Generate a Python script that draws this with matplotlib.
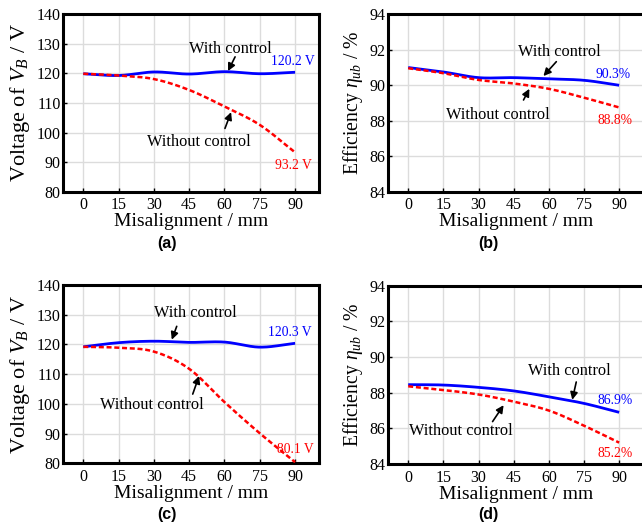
import numpy as np
import matplotlib
matplotlib.use("Agg")
import matplotlib.pyplot as plt

plt.rcParams['font.family'] = ['Liberation Serif', 'DejaVu Serif']
plt.rcParams['mathtext.fontset'] = 'custom'
plt.rcParams['mathtext.rm'] = 'Liberation Serif'
plt.rcParams['mathtext.it'] = 'Liberation Serif:italic'
plt.rcParams['mathtext.bf'] = 'Liberation Serif:bold'

# ---------------- data ----------------
misalignment = [0, 15, 30, 45, 60, 75, 90]
x_ticks = [0, 15, 30, 45, 60, 75, 90]

a_with = [119.9, 119.3, 120.5, 119.8, 120.6, 119.9, 120.4]
a_without = [119.9, 119.3, 118.1, 114.4, 108.8, 102.6, 93.3]

b_with = [91.0, 90.75, 90.43, 90.43, 90.36, 90.28, 90.0]
b_without = [90.96, 90.68, 90.3, 90.1, 89.8, 89.3, 88.75]

c_with = [119.2, 120.6, 121.1, 120.7, 120.8, 119.1, 120.4]
c_without = [119.2, 118.9, 117.6, 111.8, 100.6, 90.1, 80.4]

d_with = [88.45, 88.43, 88.3, 88.1, 87.77, 87.4, 86.9]
d_without = [88.36, 88.15, 87.9, 87.5, 87.0, 86.15, 85.2]

volt_ticks = [80, 90, 100, 110, 120, 130, 140]
eff_ticks = [84, 86, 88, 90, 92, 94]

end_labels = {
    'a': ('120.2 V', '93.2 V'),
    'b': ('90.3%', '88.8%'),
    'c': ('120.3 V', '80.1 V'),
    'd': ('86.9%', '85.2%'),
}


def smooth(x, y, n=30):
    """Catmull-Rom rendering of the curve through the read points."""
    x = np.asarray(x, float)
    y = np.asarray(y, float)
    P = np.column_stack([x, y])
    P = np.vstack([2 * P[0] - P[1], P, 2 * P[-1] - P[-2]])
    out = []
    t = np.linspace(0, 1, n, endpoint=False)
    for i in range(1, len(P) - 2):
        p0, p1, p2, p3 = P[i - 1], P[i], P[i + 1], P[i + 2]
        tt = t[:, None]
        seg = 0.5 * ((2 * p1) + (-p0 + p2) * tt + (2 * p0 - 5 * p1 + 4 * p2 - p3) * tt ** 2
                     + (-p0 + 3 * p1 - 3 * p2 + p3) * tt ** 3)
        out.append(seg)
    out.append(P[-2][None, :])
    out = np.vstack(out)
    return out[:, 0], out[:, 1]


fig = plt.figure(figsize=(6.42, 5.30), dpi=100)

positions = {
    'a': [0.0986, 0.6383, 0.3988, 0.3347],
    'b': [0.6048, 0.6383, 0.3972, 0.3347],
    'c': [0.0986, 0.1258, 0.3988, 0.3364],
    'd': [0.6048, 0.1245, 0.3972, 0.3364],
}

panels = {
    'a': (a_with, a_without, volt_ticks, 'Voltage of $\\mathit{V_B}$ / V', 16.0),
    'b': (b_with, b_without, eff_ticks, 'Efficiency $\\mathit{\\eta_{ub}}$ / %', 14.2),
    'c': (c_with, c_without, volt_ticks, 'Voltage of $\\mathit{V_B}$ / V', 16.0),
    'd': (d_with, d_without, eff_ticks, 'Efficiency $\\mathit{\\eta_{ub}}$ / %', 14.2),
}

# annotation positions (data coords): text, arrow tail, arrow head
annots = {
    'a': {'with': ((62.4, 128.3), (64.5, 125.6), (61.5, 120.8)),
          'without': ((48.9, 96.9), (60.2, 101.4), (62.8, 106.9)),
          'lab_w': (89.0, 124.0), 'lab_wo': (89.3, 89.0)},
    'b': {'with': ((64.6, 91.9), (63.2, 91.33), (57.7, 90.52)),
          'without': ((38.1, 88.32), (49.2, 89.17), (51.7, 89.8)),
          'lab_w': (87.4, 90.63), 'lab_wo': (88.2, 88.04)},
    'c': {'with': ((47.5, 130.5), (39.7, 126.1), (37.6, 121.6)),
          'without': ((29.1, 99.5), (46.5, 103.3), (49.2, 109.4)),
          'lab_w': (87.6, 124.0), 'lab_wo': (90.0, 84.6)},
    'd': {'with': ((68.9, 89.23), (71.7, 88.6), (70.0, 87.6)),
          'without': ((22.5, 85.83), (36.0, 86.38), (40.7, 87.3)),
          'lab_w': (88.2, 87.55), 'lab_wo': (88.2, 84.6)},
}

panel_titles = {'a': (0.260, 0.540), 'b': (0.760, 0.540),
                'c': (0.260, 0.030), 'd': (0.760, 0.030)}

for key in ['a', 'b', 'c', 'd']:
    ax = fig.add_axes(positions[key])
    yw, ywo, yt, ylabel, ylfs = panels[key]
    xs, ys = smooth(misalignment, yw)
    ax.plot(xs, ys, color='#0000ff', lw=2.0, solid_capstyle='butt', zorder=3)
    xs, ys = smooth(misalignment, ywo)
    ax.plot(xs, ys, color='#ff0000', lw=1.8, dashes=(2.0, 1.1), zorder=3)
    ax.set_xlim(-8.5, 100.3)
    ax.set_ylim(yt[0], yt[-1])
    ax.set_xticks(x_ticks)
    ax.set_yticks(yt)
    ax.grid(True, color='#dcdcdc', lw=1.0, zorder=0)
    ax.set_axisbelow(True)
    for s in ax.spines.values():
        s.set_linewidth(2.2)
        s.set_color('black')
    ax.tick_params(direction='in', length=3, width=1, labelsize=11.5, colors='black')
    ax.tick_params(axis='y', pad=2)
    ax.tick_params(axis='x', pad=4)
    ax.set_xlabel('Misalignment / mm', fontsize=14, labelpad=0)
    ax.set_ylabel(ylabel, fontsize=ylfs, labelpad=3)

    an = annots[key]
    for k in ['with', 'without']:
        (tx, ty), tail, head = an[k]
        ax.text(tx, ty, 'With control' if k == 'with' else 'Without control',
                fontsize=11.8, ha='center', va='center', zorder=5)
        ax.annotate('', xy=head, xytext=tail,
                    arrowprops=dict(arrowstyle='-|>', color='black', lw=1.2,
                                    mutation_scale=11, shrinkA=0, shrinkB=0),
                    zorder=5)
    lw_txt, lwo_txt = end_labels[key]
    ax.text(*an['lab_w'], lw_txt, color='#0000ff', fontsize=9.8,
            ha='center', va='center', zorder=5)
    ax.text(*an['lab_wo'], lwo_txt, color='#ff0000', fontsize=9.8,
            ha='center', va='center', zorder=5)

    px, py = panel_titles[key]
    fig.text(px, py, '(%s)' % key, fontsize=11.5, fontweight='bold',
             family='Liberation Sans', ha='center', va='center')

fig.savefig('out.png', dpi=100)
